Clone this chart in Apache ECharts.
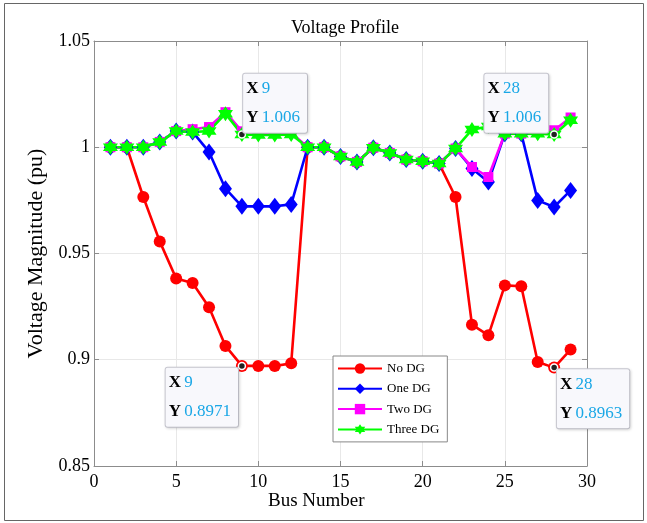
<!DOCTYPE html>
<html><head><meta charset="utf-8">
<script src="https://cdn.jsdelivr.net/npm/echarts@6/dist/echarts.min.js"></script>
<style>html,body{margin:0;padding:0;background:#fff}#c{width:647px;height:523px}</style>
</head><body><div id="c"></div>
<script>
var buses = [1,2,3,4,5,6,7,8,9,10,11,12,13,14,15,16,17,18,19,20,21,22,23,24,25,26,27,28,29];
var noDG = [1,1,0.9766,0.9557,0.9382,0.9361,0.9247,0.9065,0.8971,0.8971,0.8971,0.8983,1.0,1.0,0.9957,0.9931,0.9998,0.9973,0.9942,0.9934,0.9923,0.9766,0.9165,0.9115,0.935,0.9346,0.8989,0.8963,0.9048];
var oneDG = [1,1,1,1.0025,1.0076,1.0072,0.9978,0.9805,0.9722,0.9722,0.9722,0.9731,1.0,1.0,0.9957,0.9931,0.9998,0.9973,0.9942,0.9934,0.9923,0.9994,0.990,0.9837,1.0064,1.0064,0.975,0.9719,0.9797];
var twoDG = [1,1,1,1.0025,1.0076,1.0085,1.0095,1.0165,1.0075,1.0068,1.0068,1.0068,1.0,1.0,0.9957,0.9931,0.9998,0.9973,0.9942,0.9934,0.9923,0.9994,0.9907,0.986,1.0064,1.0064,1.0078,1.008,1.014];
var threeDG = [1,1,1,1.0025,1.0076,1.0072,1.0076,1.0158,1.006,1.0058,1.0058,1.006,1.0,1.0,0.9957,0.9931,0.9998,0.9973,0.9942,0.9934,0.9923,0.9994,1.0083,1.0098,1.0064,1.0064,1.0064,1.006,1.0127];
var seriesNames = ['No DG','One DG','Two DG','Three DG'];
var xTicks = [0,5,10,15,20,25,30];
var yTicks = [0.85,0.9,0.95,1,1.05];
// data tips: which series values and which bus index they annotate
var tipDefs = [
  {vals: threeDG, i: 8, pos: [5.5,-56.5]},
  {vals: threeDG, i: 27, pos: [-65.5,-56.5]},
  {vals: noDG, i: 8, pos: [-72,6]},
  {vals: noDG, i: 27, pos: [7,6]}
];

var serif = 'Liberation Serif';
function pairs(v){ return buses.map(function(b,i){ return [b, v[i]]; }); }
var hexagram = 'path://M50,0 L64,25 L93,25 L79,50 L93,75 L64,75 L50,100 L36,75 L7,75 L21,50 L7,25 L36,25 Z';

function mk(name, vals, color, symbol, size){
  return {name:name, type:'line', data:pairs(vals), symbol:symbol, symbolSize:size,
    showAllSymbol:true, lineStyle:{color:color, width:2.6}, itemStyle:{color:color},
    emphasis:{disabled:true}, animation:false, clip:false};
}

var tipData = tipDefs.map(function(t){
  var x = buses[t.i], y = t.vals[t.i];
  return {coord:[x,y], value:y,
    label:{show:true, position:t.pos, align:'left', verticalAlign:'top',
      formatter:'{k|X} {v|' + x + '}\n{k|Y} {v|' + y + '}',
      backgroundColor:'#f8f8fc', borderColor:'#c9c9d2', borderWidth:1, borderRadius:2,
      padding:[0,7,0,3], shadowColor:'rgba(0,0,0,0.12)', shadowBlur:3, shadowOffsetX:1, shadowOffsetY:1,
      rich:{k:{fontFamily:serif, fontSize:17, color:'#000', fontWeight:'bold', lineHeight:29.5},
            v:{fontFamily:serif, fontSize:17, color:'#1aa7e6', lineHeight:29.5}}}};
});

var chart = echarts.init(document.getElementById('c'), null, {renderer:'canvas'});
var axisCol = '#8c8c8c';
var option = {
  animation:false,
  backgroundColor:'#fff',
  title:{text:'Voltage Profile', left:340, top:14, textAlign:'center',
    textStyle:{fontFamily:serif, fontSize:18, fontWeight:'normal', color:'#000'}},
  grid:{left:94, right:60, top:41, bottom:57, show:false},
  legend:{data:seriesNames, orient:'vertical', left:333, top:356, itemWidth:44, itemHeight:13, itemGap:7.3,
    padding:[6,8,6,4], backgroundColor:'#fff', borderColor:'#888', borderWidth:1, borderRadius:0,
    textStyle:{fontFamily:serif, fontSize:13, color:'#000'}},
  xAxis:[{type:'value', min:xTicks[0], max:xTicks[xTicks.length-1], interval:5,
    axisLine:{show:true, onZero:false, lineStyle:{color:axisCol}},
    axisTick:{show:true, inside:true, length:5, lineStyle:{color:axisCol}},
    axisLabel:{fontFamily:serif, fontSize:18, color:'#000', margin:7},
    splitLine:{show:true, lineStyle:{color:'#e8e8e8'}}},
   {type:'value', position:'top', min:xTicks[0], max:xTicks[xTicks.length-1], interval:5,
    axisLine:{show:true, onZero:false, lineStyle:{color:axisCol}},
    axisTick:{show:true, inside:true, length:5, lineStyle:{color:axisCol}},
    axisLabel:{show:false}, splitLine:{show:false}}],
  yAxis:[{type:'value', min:yTicks[0], max:yTicks[yTicks.length-1], interval:0.05,
    name:'Voltage Magnitude (pu)', nameLocation:'middle', nameGap:29,
    nameTextStyle:{fontFamily:serif, fontSize:22, color:'#000'},
    axisLine:{show:true, onZero:false, lineStyle:{color:axisCol}},
    axisTick:{show:true, inside:true, length:5, lineStyle:{color:axisCol}},
    axisLabel:{fontFamily:serif, fontSize:18, color:'#000', margin:4,
      formatter:function(v){ return String(+v.toFixed(2)); }},
    splitLine:{show:true, lineStyle:{color:'#e8e8e8'}}},
   {type:'value', position:'right', min:yTicks[0], max:yTicks[yTicks.length-1], interval:0.05,
    axisLine:{show:true, onZero:false, lineStyle:{color:axisCol}},
    axisTick:{show:true, inside:true, length:5, lineStyle:{color:axisCol}},
    axisLabel:{show:false}, splitLine:{show:false}}],
  graphic:[
    {type:'rect', shape:{x:4.5, y:3.5, width:639, height:517}, style:{fill:'none', stroke:'#666', lineWidth:1}, silent:true, z:-10},
    {type:'text', left:268, top:492, style:{text:'Bus Number', font:'19px "Liberation Serif"', fill:'#000'}}
  ],
  series:[
    mk(seriesNames[0], noDG, '#ff0000', 'circle', 12),
    mk(seriesNames[1], oneDG, '#0000ff', 'diamond', [13,17]),
    mk(seriesNames[2], twoDG, '#ff00ff', 'rect', 10),
    mk(seriesNames[3], threeDG, '#00ff00', hexagram, 15),
    {name:'tips', type:'line', data:[], z:10, silent:true,
      markPoint:{symbol:'circle', symbolSize:7, silent:true, animation:false,
        itemStyle:{color:'#222', borderColor:'#fff', borderWidth:1.5}, data:tipData}}
  ]
};
chart.setOption(option);
</script></body></html>
